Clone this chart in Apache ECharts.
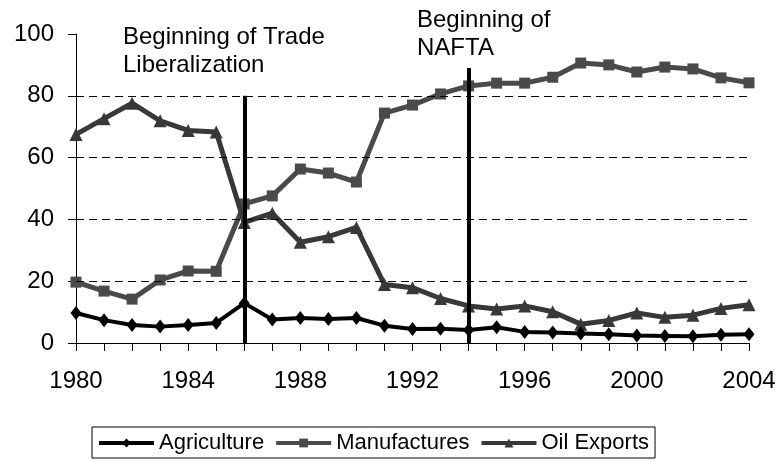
<!DOCTYPE html>
<html>
<head>
<meta charset="utf-8">
<script src="https://cdn.jsdelivr.net/npm/echarts@6/dist/echarts.min.js"></script>
<style>
	html, body { margin: 0; padding: 0; background: #fff; }
	#chart { width: 780px; height: 461px; }
</style>
</head>
<body>
<div id="chart"></div>
<script>
var years = ['1980', '1981', '1982', '1983', '1984', '1985', '1986', '1987', '1988', '1989', '1990', '1991', '1992',
	'1993', '1994', '1995', '1996', '1997', '1998', '1999', '2000', '2001', '2002', '2003', '2004'];
var agriculture = [9.7, 7.4, 5.8, 5.3, 5.8, 6.5, 12.9, 7.6, 8.1, 7.8, 8.1, 5.6, 4.5, 4.6, 4.2, 5.1, 3.6, 3.4, 3.1, 2.8, 2.4, 2.3, 2.2, 2.7, 2.8];
var manufactures = [19.7, 16.8, 14.2, 20.4, 23.3, 23.2, 45.0, 47.6, 56.3, 55.0, 52.1, 74.4, 77.0, 80.6, 83.2, 84.1, 84.1, 86.0, 90.6, 90.0, 87.7, 89.3, 88.7, 85.8, 84.2];
var oilExports = [67.5, 72.6, 77.6, 71.9, 68.8, 68.3, 39.0, 42.0, 32.6, 34.4, 37.4, 18.9, 17.9, 14.4, 12.0, 11.0, 12.0, 10.1, 6.1, 7.3, 9.7, 8.3, 9.0, 11.2, 12.4];
var gridValues = [20, 40, 60, 80];
var events = [
	{ year: '1986', top: 80, label: 'Beginning of Trade\nLiberalization' },
	{ year: '1994', top: 89, label: 'Beginning of\nNAFTA' }
];

var chart = echarts.init(document.getElementById('chart'));
var font = 'Liberation Sans, Arial, sans-serif';

var option = {
	animation: false,
	grid: { left: 76, right: 31, top: 34, bottom: 118 },
	xAxis: {
		type: 'category',
		boundaryGap: false,
		data: years,
		axisLine: { lineStyle: { color: '#000', width: 1 } },
		axisTick: { interval: 0, length: 8, lineStyle: { color: '#000' } },
		axisLabel: { interval: 3, margin: 26, color: '#000', fontSize: 24, fontFamily: font },
		splitLine: { show: false }
	},
	yAxis: {
		type: 'value',
		min: 0,
		max: 100,
		interval: 20,
		axisLine: { show: true, lineStyle: { color: '#000', width: 1 } },
		axisTick: { show: true, length: 8, lineStyle: { color: '#000' } },
		axisLabel: { margin: 22, color: '#000', fontSize: 24, fontFamily: font },
		splitLine: { show: false }
	},
	legend: {
		left: 92,
		top: 427,
		itemWidth: 55,
		itemHeight: 11,
		itemGap: 10,
		padding: [5, 6, 4, 5],
		borderColor: '#000',
		borderWidth: 1,
		borderRadius: 0,
		lineStyle: { width: 4 },
		textStyle: { color: '#000', fontSize: 22, fontFamily: font },
		data: ['Agriculture', 'Manufactures', 'Oil Exports']
	},
	graphic: [
		{ type: 'text', left: 123, top: 23, style: { text: events[0].label, fill: '#000', font: '24px ' + font, lineHeight: 28 } },
		{ type: 'text', left: 417, top: 6, style: { text: events[1].label, fill: '#000', font: '24px ' + font, lineHeight: 28 } }
	],
	series: [
		{
			name: 'Manufactures',
			type: 'line',
			data: manufactures,
			symbol: 'rect',
			symbolSize: 11,
			itemStyle: { color: '#4a4a4a' },
			lineStyle: { color: '#4a4a4a', width: 5 },
			z: 2,
			markLine: {
				silent: true,
				symbol: 'none',
				label: { show: false },
				lineStyle: { color: '#000', width: 1, type: [8, 5] },
				data: gridValues.map(function (v) { return { yAxis: v }; })
			}
		},
		{
			name: 'Oil Exports',
			type: 'line',
			data: oilExports,
			symbol: 'triangle',
			symbolSize: 13,
			itemStyle: { color: '#383838' },
			lineStyle: { color: '#383838', width: 5 },
			z: 3
		},
		{
			name: 'Agriculture',
			type: 'line',
			data: agriculture,
			symbol: 'diamond',
			symbolSize: [11, 14],
			itemStyle: { color: '#000' },
			lineStyle: { color: '#000', width: 4 },
			clip: false,
			z: 4,
			markLine: {
				silent: true,
				symbol: 'none',
				label: { show: false },
				lineStyle: { color: '#000', width: 4, type: 'solid' },
				data: events.map(function (e) {
					return [{ coord: [e.year, e.top] }, { coord: [e.year, 0] }];
				})
			}
		}
	]
};

chart.setOption(option);
</script>
</body>
</html>
